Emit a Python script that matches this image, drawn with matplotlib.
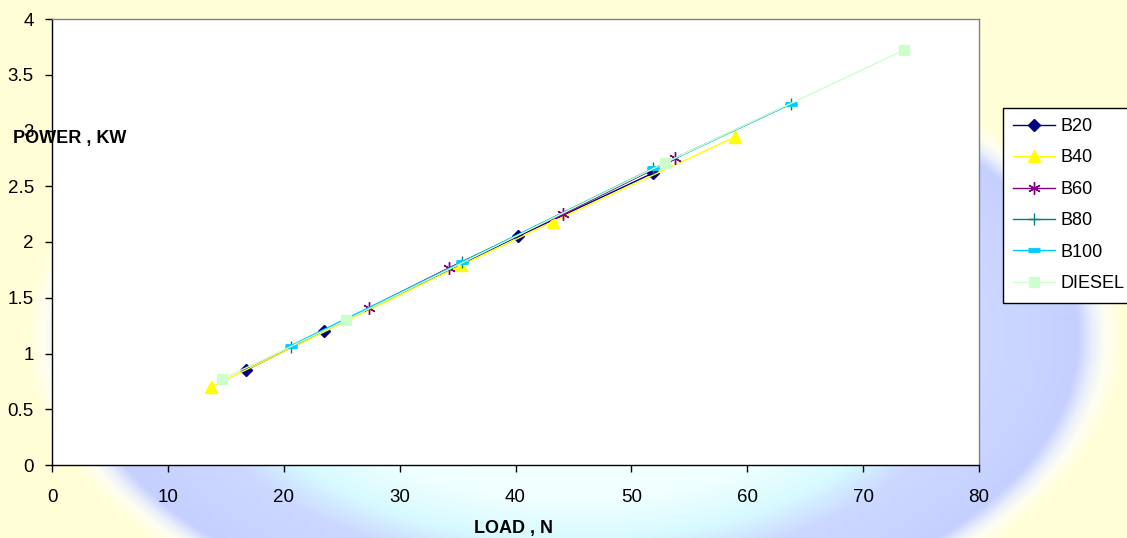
"""
@ power vs load chart (B20..B100, diesel)
"""

import numpy as np
import matplotlib
matplotlib.use('Agg')
from matplotlib import pyplot as plt
from matplotlib.ticker import FuncFormatter

# data
load_b20 = [16.7, 23.5, 40.2, 51.9]
power_b20 = [0.85, 1.20, 2.05, 2.62]

load_b40 = [13.7, 35.3, 43.2, 58.9]
power_b40 = [0.70, 1.79, 2.18, 2.94]

load_b60 = [27.4, 34.3, 44.1, 53.8]
power_b60 = [1.41, 1.77, 2.25, 2.75]

load_b80 = [20.6, 35.4, 51.9, 63.8]
power_b80 = [1.06, 1.82, 2.66, 3.24]

load_b100 = [20.6, 35.4, 51.9, 63.8]
power_b100 = [1.07, 1.82, 2.66, 3.24]

load_diesel = [14.7, 25.4, 52.9, 73.5]
power_diesel = [0.77, 1.30, 2.71, 3.72]

series_names = ['B20', 'B40', 'B60', 'B80', 'B100', 'DIESEL']
x_ticks = [0, 10, 20, 30, 40, 50, 60, 70, 80]
y_ticks = [0, 0.5, 1, 1.5, 2, 2.5, 3, 3.5, 4]

W, H = 1127, 538
plt.rcParams['font.family'] = ['Liberation Sans', 'DejaVu Sans']

fig = plt.figure(figsize=(W / 100, H / 100), dpi=100)
fig.patch.set_facecolor('#FFFED6')

# # slide background: yellow with a pale blue ring
yy, xx = np.mgrid[0:H, 0:W]
r = np.sqrt(((xx - 575) / 518.0) ** 2 + ((yy - 336) / 300.0) ** 2)
knots = [0.0, 0.55, 0.68, 0.78, 0.97, 1.0, 1.025, 1.06]
red = [255, 240, 215, 204, 198, 235, 255, 255]
green = [255, 255, 250, 216, 208, 240, 255, 254]
blue = [255, 255, 255, 255, 255, 250, 240, 214]
bg = np.dstack([np.interp(r, knots, red), np.interp(r, knots, green),
                np.interp(r, knots, blue)]) / 255.0
axBg = fig.add_axes([0, 0, 1, 1], zorder=-5)
axBg.imshow(bg, aspect='auto', extent=(0, W, H, 0), interpolation='bilinear')
axBg.axis('off')

ax = fig.add_axes([52 / W, 1 - 465 / H, (979 - 52) / W, (465 - 19) / H])
ax.set_facecolor('white')

ax.plot(load_b20, power_b20, color='#000080', lw=1, marker='D', ms=6, label=series_names[0])
ax.plot(load_b40, power_b40, color='#FFFF00', lw=1, marker='^', ms=8, label=series_names[1])
ax.plot(load_b60, power_b60, color='#800080', lw=1, marker=(6, 2, 0), ms=9, mew=1,
        label=series_names[2])
ax.plot(load_b80, power_b80, color='#008080', lw=1, marker='+', ms=9, mew=1, label=series_names[3])
ax.plot(load_b100, power_b100, color='#00CCFF', lw=1, marker='_', ms=9, mew=3.5,
        label=series_names[4])
ax.plot(load_diesel, power_diesel, color='#CCFFCC', lw=1, marker='s', ms=7, label=series_names[5])

ax.set_xlim(0, 80)
ax.set_ylim(0, 4)
ax.set_xticks(x_ticks)
ax.set_yticks(y_ticks)
ax.yaxis.set_major_formatter(FuncFormatter(lambda v, p: '%g' % v))
ax.tick_params(axis='both', direction='out', length=5, width=1, labelsize=13.5, colors='black')
ax.tick_params(axis='x', pad=12)
ax.tick_params(axis='y', pad=8)

for side in ['left', 'bottom']:
    ax.spines[side].set_color('black')
    ax.spines[side].set_linewidth(1)
for side in ['top', 'right']:
    ax.spines[side].set_color('#808080')
    ax.spines[side].set_linewidth(1)

fig.text(70 / W, 1 - 138 / H, 'POWER , KW', ha='center', va='center',
         fontsize=13, fontweight='bold')
fig.text(514 / W, 1 - 529 / H, 'LOAD , N', ha='center', va='center',
         fontsize=13, fontweight='bold')

leg = fig.legend(loc='upper left', bbox_to_anchor=(1003 / W, 1 - 107.5 / H),
                 fontsize=13, frameon=True, fancybox=False, shadow=False,
                 borderaxespad=0, borderpad=0.58, labelspacing=0.8,
                 handlelength=2.3, handletextpad=0.3)
leg.get_frame().set_edgecolor('black')
leg.get_frame().set_linewidth(1)
leg.get_frame().set_facecolor('white')
leg.get_frame().set_alpha(1)

fig.savefig('out.png', dpi=100, facecolor=fig.get_facecolor())
